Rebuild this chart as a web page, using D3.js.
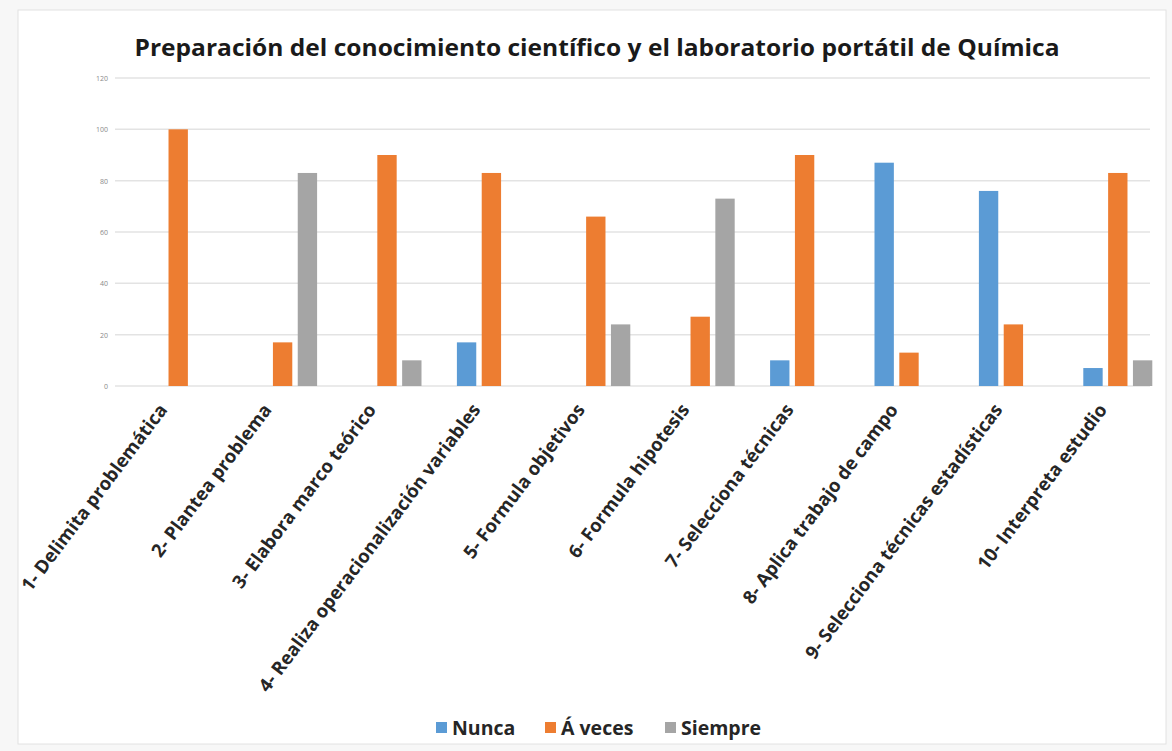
<!DOCTYPE html>
<html>
<head>
<meta charset="utf-8">
<script src="https://cdn.jsdelivr.net/npm/d3@7"></script>
<style>
body { margin: 0; background: #f7f7f7; }
svg { display: block; }
</style>
</head>
<body>
<svg></svg>
<script>
var W = 1172;
var H = 751;

var categories = [
    "1- Delimita problemática",
    "2- Plantea problema",
    "3- Elabora marco teórico",
    "4- Realiza operacionalización variables",
    "5- Formula objetivos",
    "6- Formula hipotesis",
    "7- Selecciona técnicas",
    "8- Aplica trabajo de campo",
    "9- Selecciona  técnicas estadísticas",
    "10- Interpreta estudio"
];
var seriesNames = ["Nunca", "Á veces", "Siempre"];
var nunca   = [0, 0, 0, 17, 0, 0, 10, 87, 76, 7];
var aVeces  = [100, 17, 90, 83, 66, 27, 90, 13, 24, 83];
var siempre = [0, 83, 10, 0, 24, 73, 0, 0, 0, 10];
var yTicks = [0, 20, 40, 60, 80, 100, 120];
var colors = ["#5b9bd5", "#ed7d31", "#a5a5a5"];

var values = [nunca, aVeces, siempre];

var svg = d3.select("svg")
    .attr("width", W)
    .attr("height", H);

// chart frame
svg.append("rect")
    .attr("x", 18).attr("y", 10)
    .attr("width", 1148).attr("height", 734)
    .attr("fill", "#ffffff")
    .attr("stroke", "#e2e2e2");

var x0 = d3.scaleBand()
    .domain(categories)
    .range([126, 1170]);

var x1 = d3.scaleBand()
    .domain(seriesNames)
    .range([0, 69])
    .paddingInner(0.22);

var y = d3.scaleLinear()
    .domain([0, 120])
    .range([386, 78]);

// gridlines
svg.append("g")
    .selectAll("line")
    .data(yTicks)
    .enter().append("line")
    .attr("x1", 115)
    .attr("x2", 1150)
    .attr("y1", function(d) { return y(d); })
    .attr("y2", function(d) { return y(d); })
    .attr("stroke", "#e3e3e3")
    .attr("stroke-width", 1.5);

// y tick labels (tiny in the original)
svg.append("g")
    .selectAll("text")
    .data(yTicks)
    .enter().append("text")
    .attr("x", 108)
    .attr("y", function(d) { return y(d) + 3; })
    .attr("text-anchor", "end")
    .attr("font-family", "Open Sans")
    .attr("font-size", 7)
    .attr("fill", "#8a8a8a")
    .text(function(d) { return d; });

// bars
var groups = svg.append("g")
    .selectAll("g")
    .data(categories)
    .enter().append("g")
    .attr("transform", function(d) {
        return "translate(" + (x0(d) + (x0.bandwidth() - 69) / 2) + ",0)";
    });

groups.selectAll("rect")
    .data(function(d, i) {
        return seriesNames.map(function(s, j) {
            return { series: s, idx: j, value: values[j][i] };
        });
    })
    .enter().append("rect")
    .filter(function(d) { return d.value > 0; })
    .attr("x", function(d) { return x1(d.series); })
    .attr("y", function(d) { return y(d.value); })
    .attr("width", x1.bandwidth())
    .attr("height", function(d) { return y(0) - y(d.value); })
    .attr("fill", function(d) { return colors[d.idx]; });

// category labels
svg.append("g")
    .selectAll("text")
    .data(categories)
    .enter().append("text")
    .attr("transform", function(d) {
        var cx = x0(d) + x0.bandwidth() / 2 - 10;
        return "translate(" + cx + ",410) rotate(-53)";
    })
    .attr("text-anchor", "end")
    .attr("font-family", "Open Sans")
    .attr("font-weight", "bold")
    .attr("font-size", 18.5)
    .attr("fill", "#262626")
    .text(function(d) { return d; });

// title
svg.append("text")
    .attr("x", 597)
    .attr("y", 56)
    .attr("text-anchor", "middle")
    .attr("font-family", "Open Sans")
    .attr("font-weight", "bold")
    .attr("font-size", 23)
    .attr("fill", "#1a1a1a")
    .attr("textLength", 925)
    .attr("lengthAdjust", "spacingAndGlyphs")
    .text("Preparación del conocimiento científico y el laboratorio portátil de Química");

// legend
var legendX = [436, 545, 665];
var legend = svg.append("g")
    .selectAll("g")
    .data(seriesNames)
    .enter().append("g")
    .attr("transform", function(d, i) { return "translate(" + legendX[i] + ",728)"; });

legend.append("rect")
    .attr("x", 0).attr("y", -6)
    .attr("width", 11).attr("height", 11)
    .attr("fill", function(d, i) { return colors[i]; });

legend.append("text")
    .attr("x", 16)
    .attr("y", 7)
    .attr("font-family", "Open Sans")
    .attr("font-weight", "bold")
    .attr("font-size", 19.5)
    .attr("fill", "#262626")
    .text(function(d) { return d; });
</script>
</body>
</html>
